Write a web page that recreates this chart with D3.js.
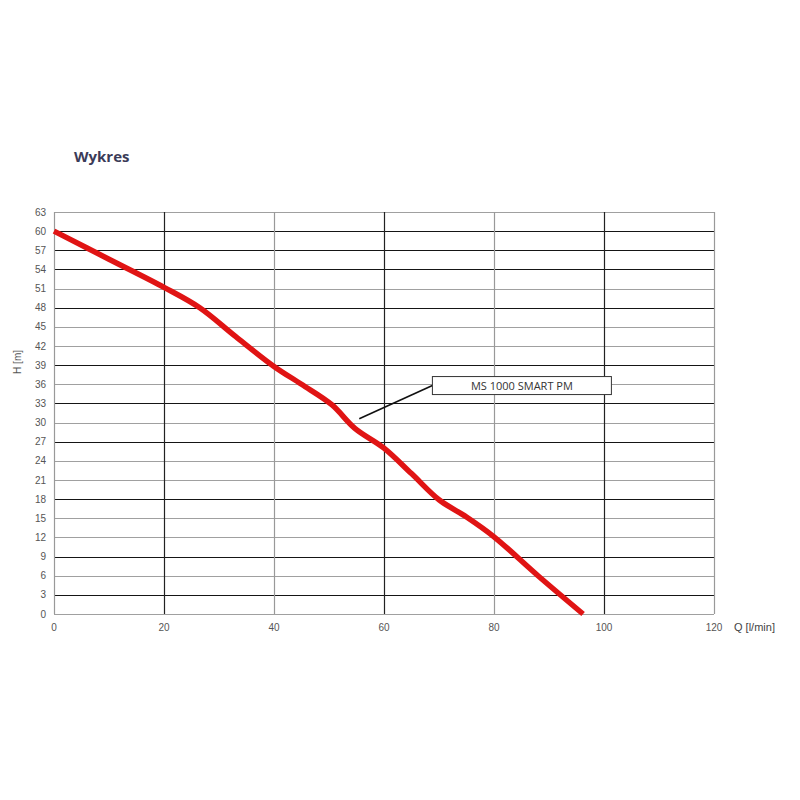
<!DOCTYPE html>
<html>
<head>
<meta charset="utf-8">
<script src="https://cdn.jsdelivr.net/npm/d3@7"></script>
<style>
    body { margin: 0; background: #fff; }
    svg { display: block; }
</style>
</head>
<body>
<div id="chart-container"></div>
<script>
// pump curve
const flow = [0, 10, 20, 26.5, 33, 40, 45, 50.5, 54.7, 60, 65, 70, 75, 80, 88, 96.2];
const head = [60, 55.6, 51.2, 48, 43.5, 38.8, 36, 32.8, 29.1, 26, 22, 17.9, 15.2, 12.1, 6, 0];

const xTicks = [0, 20, 40, 60, 80, 100, 120];
const yTicks = d3.range(0, 64, 3);

const title = 'Wykres';
const xLabel = 'Q [l/min]';
const yLabel = 'H [m]';
const seriesName = 'MS 1000 SMART PM';
// leader line of the callout, in data units
const calloutFrom = [55.5, 30.6];
const calloutTo = [68.8, 35.8];

// grid lines that come out darker in the scan
const darkH = [3, 9, 18, 27, 33, 39, 48, 54, 57, 60];
const darkV = [20, 60, 100];

const width = 800, height = 800;
const margin = { top: 212, right: 86, bottom: 186, left: 54 };
const innerW = width - margin.left - margin.right;
const innerH = height - margin.top - margin.bottom;

const svg = d3.select('#chart-container')
    .append('svg')
    .attr('width', width)
    .attr('height', height);

svg.append('text')
    .attr('x', 74)
    .attr('y', 162)
    .style('font-family', 'Open Sans, Lato, sans-serif')
    .style('font-size', '15px')
    .style('font-weight', 'bold')
    .style('fill', '#3b3b58')
    .text(title);

const g = svg.append('g')
    .attr('transform', `translate(${margin.left},${margin.top})`);

const x = d3.scaleLinear().domain([0, 120]).range([0, innerW]);
const y = d3.scaleLinear().domain([0, 63]).range([innerH, 0]);

// grid
g.append('g')
    .selectAll('line')
    .data(yTicks)
    .join('line')
    .attr('x1', 0)
    .attr('x2', innerW)
    .attr('y1', (d) => Math.round(y(d)) + 0.5)
    .attr('y2', (d) => Math.round(y(d)) + 0.5)
    .attr('stroke', (d) => darkH.includes(d) ? '#151515' : '#a0a0a0')
    .attr('stroke-width', 1.2);

g.append('g')
    .selectAll('line')
    .data(xTicks)
    .join('line')
    .attr('x1', (d) => x(d) + 0.5)
    .attr('x2', (d) => x(d) + 0.5)
    .attr('y1', 0)
    .attr('y2', innerH)
    .attr('stroke', (d) => darkV.includes(d) ? '#222' : '#999')
    .attr('stroke-width', 1.2);

// tick labels
g.append('g')
    .selectAll('text')
    .data(yTicks)
    .join('text')
    .attr('x', -8)
    .attr('y', (d) => y(d))
    .attr('dy', '0.35em')
    .attr('text-anchor', 'end')
    .style('font-family', 'Liberation Sans, Arial, sans-serif')
    .style('font-size', '10px')
    .style('fill', '#555')
    .text((d) => d);

g.append('g')
    .selectAll('text')
    .data(xTicks)
    .join('text')
    .attr('x', (d) => x(d))
    .attr('y', innerH + 17)
    .attr('text-anchor', 'middle')
    .style('font-family', 'Liberation Sans, Arial, sans-serif')
    .style('font-size', '10px')
    .style('fill', '#555')
    .text((d) => d);

g.append('text')
    .attr('x', innerW + 20)
    .attr('y', innerH + 17)
    .style('font-family', 'Liberation Sans, Arial, sans-serif')
    .style('font-size', '11px')
    .style('fill', '#444')
    .text(xLabel);

g.append('text')
    .attr('transform', `translate(-33,${y(39.5)}) rotate(-90)`)
    .attr('text-anchor', 'middle')
    .style('font-family', 'Liberation Sans, Arial, sans-serif')
    .style('font-size', '10px')
    .style('fill', '#555')
    .text(yLabel);

// curve
const line = d3.line()
    .x((d) => x(d[0]))
    .y((d) => y(d[1]))
    .curve(d3.curveCatmullRom.alpha(0.5));

g.append('path')
    .datum(d3.zip(flow, head))
    .attr('fill', 'none')
    .attr('stroke', '#e01414')
    .attr('stroke-width', 5.5)
    .attr('stroke-linejoin', 'round')
    .attr('d', line);

// callout
g.append('line')
    .attr('x1', x(calloutFrom[0]))
    .attr('y1', y(calloutFrom[1]))
    .attr('x2', x(calloutTo[0]))
    .attr('y2', y(calloutTo[1]))
    .attr('stroke', '#111')
    .attr('stroke-width', 1.6);

const boxW = 179, boxH = 18;
const bx = x(calloutTo[0]);
const by = y(calloutTo[1]) - 9;
g.append('rect')
    .attr('x', bx)
    .attr('y', by)
    .attr('width', boxW)
    .attr('height', boxH)
    .attr('fill', '#fff')
    .attr('stroke', '#333')
    .attr('stroke-width', 1);

g.append('text')
    .attr('x', bx + boxW / 2)
    .attr('y', by + boxH / 2)
    .attr('dy', '0.36em')
    .attr('text-anchor', 'middle')
    .style('font-family', 'Open Sans, Liberation Sans, sans-serif')
    .style('font-size', '11px')
    .style('fill', '#333')
    .text(seriesName);
</script>
</body>
</html>
